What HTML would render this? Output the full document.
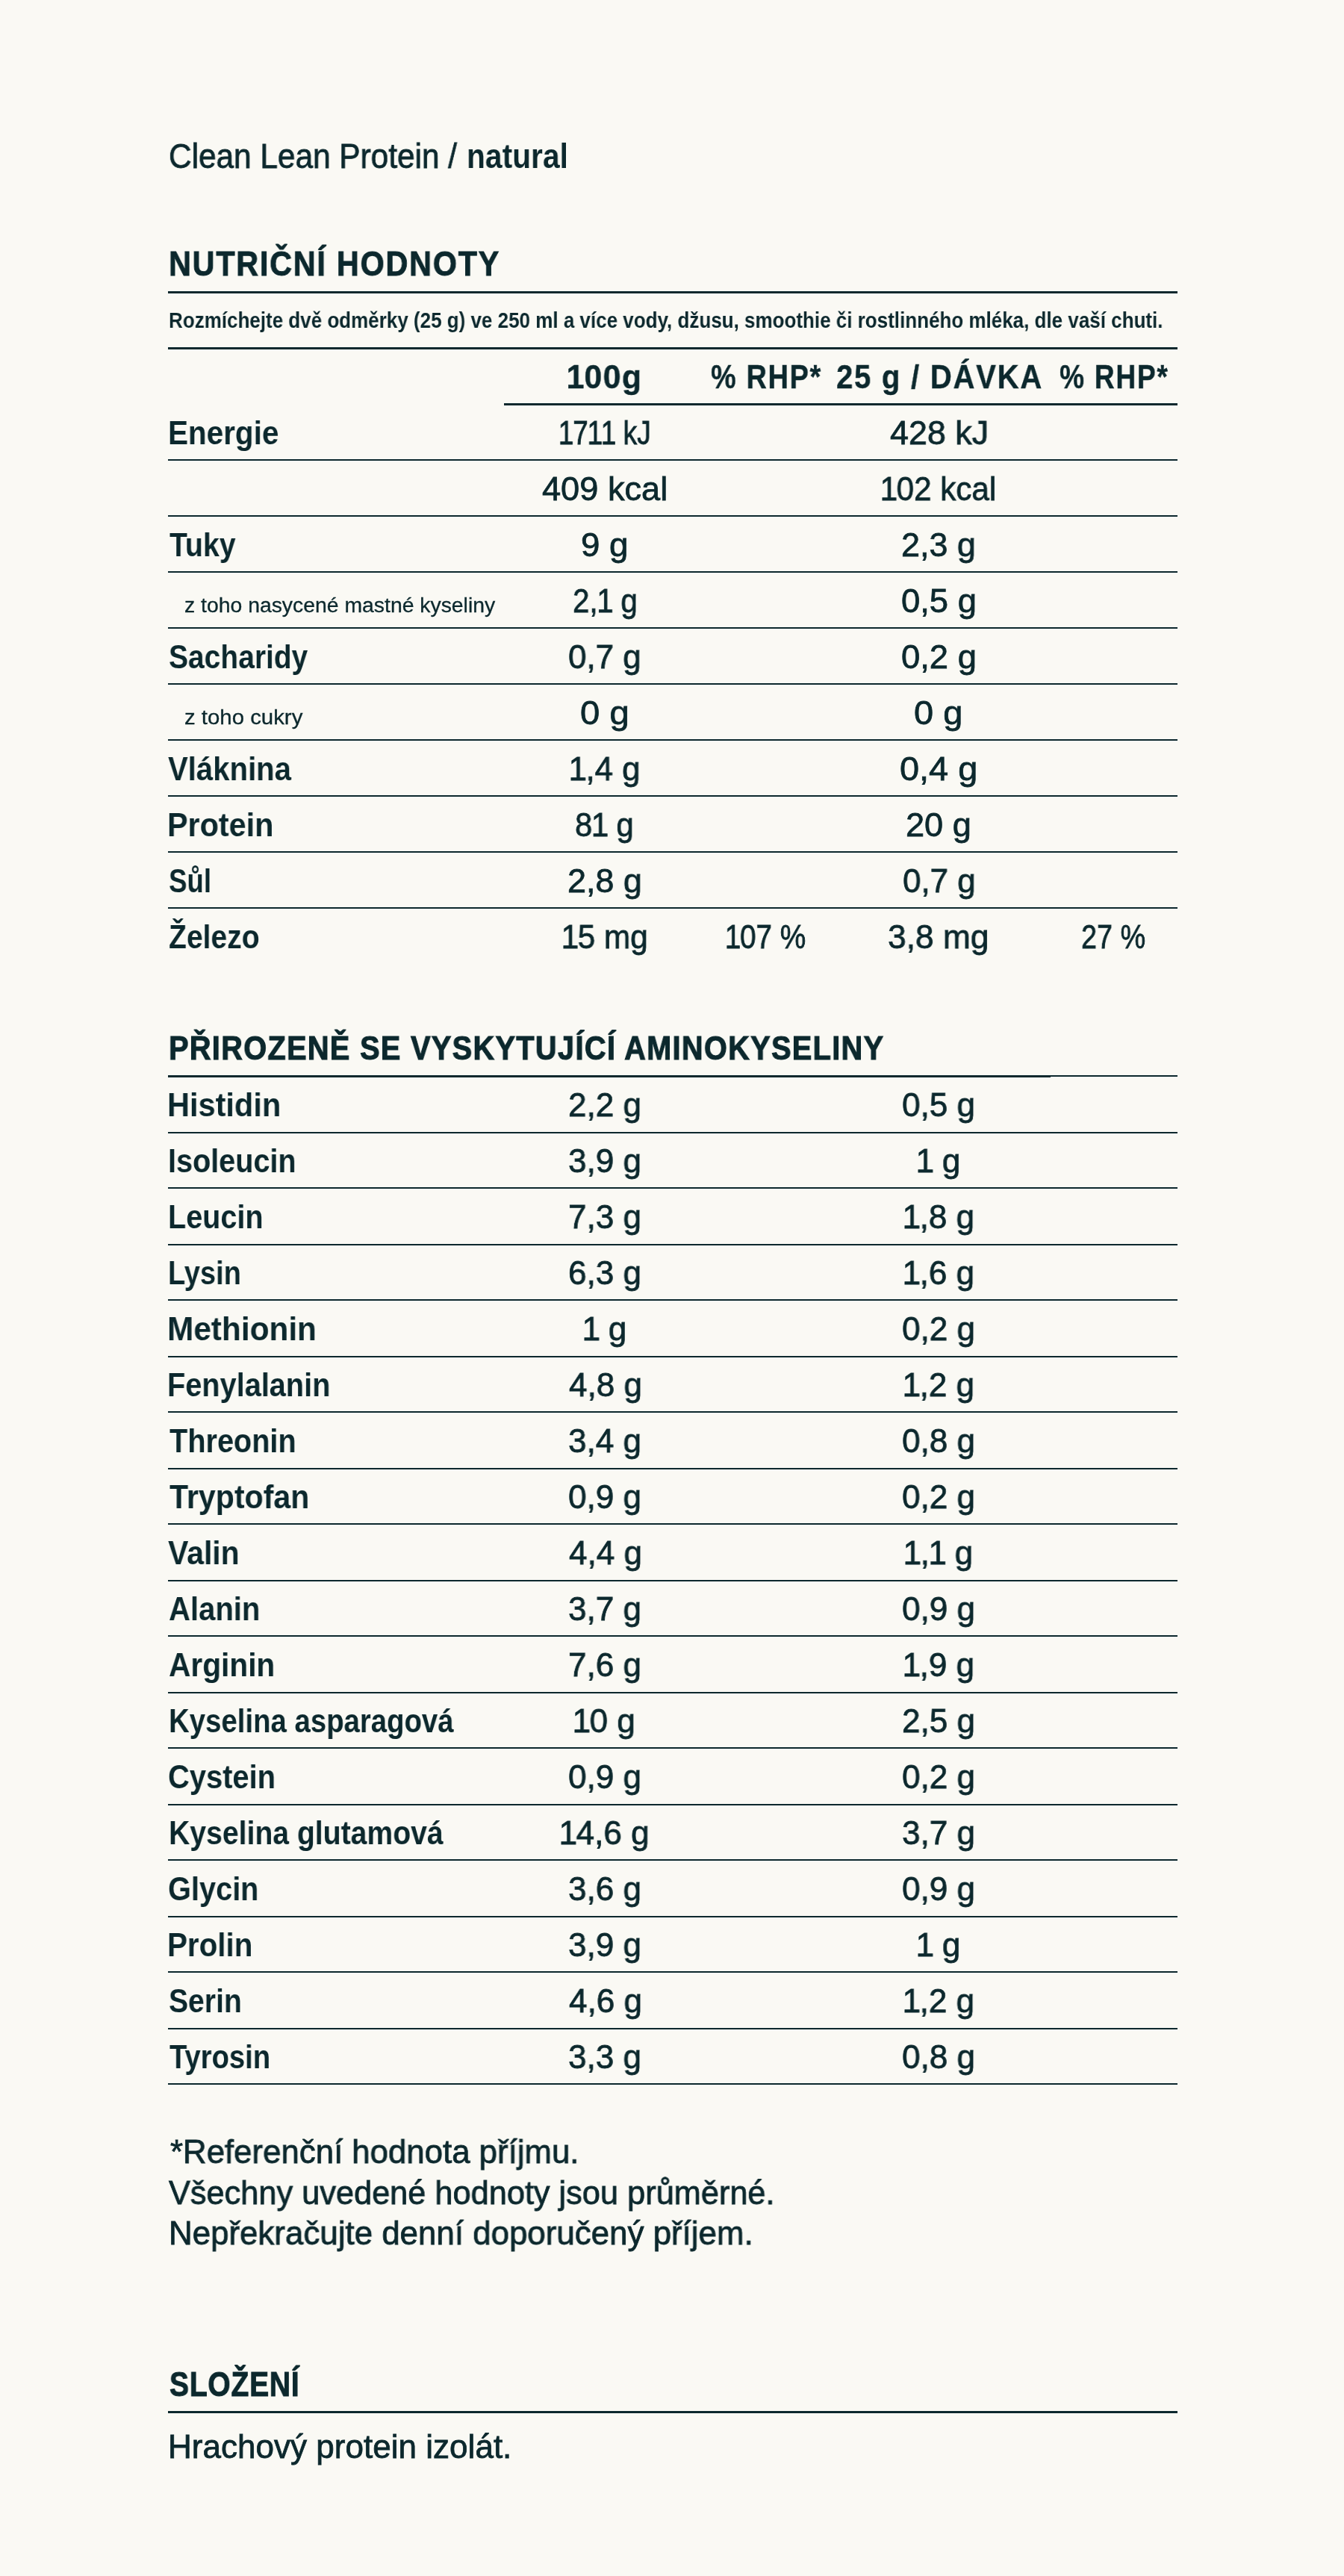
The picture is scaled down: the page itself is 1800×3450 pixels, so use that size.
<!DOCTYPE html>
<html><head><meta charset="utf-8"><title>Clean Lean Protein / natural</title>
<style>
html,body{margin:0;padding:0;background:#faf9f4;}
body{width:1800px;height:3450px;position:relative;overflow:hidden;font-family:"Liberation Sans", sans-serif;color:#0c282d;}
.t{position:absolute;white-space:nowrap;transform-origin:0 0;will-change:transform;}
.o{margin:0 -1.5px;}
.r{-webkit-text-stroke:0.8px #0c282d;}
.l{position:absolute;background:#0c282d;}
</style></head><body>
<div class='t r' style='left:225.86px;top:185.5px;font-size:46px;line-height:46px;font-weight:400;transform:scaleX(0.9204)'>Clean Lean Protein /</div><div class='t' style='left:625.04px;top:185.5px;font-size:46px;line-height:46px;font-weight:700;transform:scaleX(0.8864)'>natural</div><div class='t' style='left:226.21px;top:330.1px;font-size:46px;line-height:46px;font-weight:700;transform:scaleX(0.8980);letter-spacing:2px;-webkit-text-stroke:0.9px #0c282d'>NUTRIČNÍ HODNOTY</div><div class='t' style='left:225.71px;top:415.2px;font-size:29px;line-height:29px;font-weight:700;transform:scaleX(0.8964)'>Rozmíchejte dvě odměrky (25 g) ve 250 ml a více vody, džusu, smoothie či rostlinného mléka, dle vaší chuti.</div><div class='t' style='left:760.25px;top:481.5px;font-size:45px;line-height:45px;font-weight:700;transform:scaleX(0.9530);letter-spacing:1.5px;-webkit-text-stroke:0.4px #0c282d'><span class=o>1</span>00g</div><div class='t' style='left:951.76px;top:481.5px;font-size:45px;line-height:45px;font-weight:700;transform:scaleX(0.8414);letter-spacing:2px;-webkit-text-stroke:0.4px #0c282d'>% RHP*</div><div class='t' style='left:1120.11px;top:481.5px;font-size:45px;line-height:45px;font-weight:700;transform:scaleX(0.8893);letter-spacing:2px;-webkit-text-stroke:0.4px #0c282d'>25 g / DÁVKA</div><div class='t' style='left:1419.17px;top:481.5px;font-size:45px;line-height:45px;font-weight:700;transform:scaleX(0.8276);letter-spacing:2px;-webkit-text-stroke:0.4px #0c282d'>% RHP*</div><div class='t' style='left:225.44px;top:557.9px;font-size:44px;line-height:44px;font-weight:700;transform:scaleX(0.9191)'>Energie</div><div class='t r' style='left:748.55px;top:556.9px;font-size:45px;line-height:45px;font-weight:400;transform:scaleX(0.8250)'><span class=o>1</span>7<span class=o>1</span><span class=o>1</span> kJ</div><div class='t r' style='left:1192.00px;top:556.9px;font-size:45px;line-height:45px;font-weight:400;transform:scaleX(0.9969)'>428 kJ</div><div class='t r' style='left:726.30px;top:631.9px;font-size:45px;line-height:45px;font-weight:400;transform:scaleX(1.0037)'>409 kcal</div><div class='t r' style='left:1179.92px;top:631.9px;font-size:45px;line-height:45px;font-weight:400;transform:scaleX(0.9375)'><span class=o>1</span>02 kcal</div><div class='t' style='left:226.70px;top:707.9px;font-size:44px;line-height:44px;font-weight:700;transform:scaleX(0.8909)'>Tuky</div><div class='t r' style='left:778.12px;top:706.9px;font-size:45px;line-height:45px;font-weight:400;transform:scaleX(1.0155)'>9 g</div><div class='t r' style='left:1207.40px;top:706.9px;font-size:45px;line-height:45px;font-weight:400;transform:scaleX(0.9979)'>2,3 g</div><div class='t r' style='left:247.05px;top:797.9px;font-size:27px;line-height:27px;font-weight:400;transform:scaleX(1.0504);-webkit-text-stroke:0.3px #0c282d'>z toho nasycené mastné kyseliny</div><div class='t r' style='left:766.66px;top:781.9px;font-size:45px;line-height:45px;font-weight:400;transform:scaleX(0.8946)'>2,<span class=o>1</span> g</div><div class='t r' style='left:1206.88px;top:781.9px;font-size:45px;line-height:45px;font-weight:400;transform:scaleX(1.0084)'>0,5 g</div><div class='t' style='left:226.31px;top:857.9px;font-size:44px;line-height:44px;font-weight:700;transform:scaleX(0.8856)'>Sacharidy</div><div class='t r' style='left:761.30px;top:856.9px;font-size:45px;line-height:45px;font-weight:400;transform:scaleX(0.9758)'>0,7 g</div><div class='t r' style='left:1206.88px;top:856.9px;font-size:45px;line-height:45px;font-weight:400;transform:scaleX(1.0084)'>0,2 g</div><div class='t r' style='left:247.01px;top:947.9px;font-size:27px;line-height:27px;font-weight:400;transform:scaleX(1.0876);-webkit-text-stroke:0.3px #0c282d'>z toho cukry</div><div class='t r' style='left:777.05px;top:931.9px;font-size:45px;line-height:45px;font-weight:400;transform:scaleX(1.0500)'>0 g</div><div class='t r' style='left:1224.46px;top:931.9px;font-size:45px;line-height:45px;font-weight:400;transform:scaleX(1.0431)'>0 g</div><div class='t' style='left:225.40px;top:1007.9px;font-size:44px;line-height:44px;font-weight:700;transform:scaleX(0.9116)'>Vláknina</div><div class='t r' style='left:762.85px;top:1006.9px;font-size:45px;line-height:45px;font-weight:400;transform:scaleX(0.9739)'><span class=o>1</span>,4 g</div><div class='t r' style='left:1205.22px;top:1006.9px;font-size:45px;line-height:45px;font-weight:400;transform:scaleX(1.0421)'>0,4 g</div><div class='t' style='left:224.38px;top:1082.9px;font-size:44px;line-height:44px;font-weight:700;transform:scaleX(0.9390)'>Protein</div><div class='t r' style='left:770.49px;top:1081.9px;font-size:45px;line-height:45px;font-weight:400;transform:scaleX(0.9313)'>8<span class=o>1</span> g</div><div class='t r' style='left:1213.14px;top:1081.9px;font-size:45px;line-height:45px;font-weight:400;transform:scaleX(1.0036)'>20 g</div><div class='t' style='left:226.37px;top:1157.9px;font-size:44px;line-height:44px;font-weight:700;transform:scaleX(0.8338)'>Sůl</div><div class='t r' style='left:760.20px;top:1156.9px;font-size:45px;line-height:45px;font-weight:400;transform:scaleX(0.9979)'>2,8 g</div><div class='t r' style='left:1208.50px;top:1156.9px;font-size:45px;line-height:45px;font-weight:400;transform:scaleX(0.9758)'>0,7 g</div><div class='t' style='left:225.81px;top:1232.9px;font-size:44px;line-height:44px;font-weight:700;transform:scaleX(0.8881)'>Železo</div><div class='t r' style='left:752.72px;top:1231.9px;font-size:45px;line-height:45px;font-weight:400;transform:scaleX(0.9402)'><span class=o>1</span>5 mg</div><div class='t r' style='left:972.18px;top:1231.9px;font-size:45px;line-height:45px;font-weight:400;transform:scaleX(0.8612)'><span class=o>1</span>07 %</div><div class='t r' style='left:1189.33px;top:1231.9px;font-size:45px;line-height:45px;font-weight:400;transform:scaleX(0.9850)'>3,8 mg</div><div class='t r' style='left:1448.22px;top:1231.9px;font-size:45px;line-height:45px;font-weight:400;transform:scaleX(0.8404)'>27 %</div><div class='t' style='left:225.85px;top:1381.3px;font-size:45px;line-height:45px;font-weight:700;transform:scaleX(0.8829);letter-spacing:1.5px;-webkit-text-stroke:1.1px #0c282d'>PŘIROZENĚ SE VYSKYTUJÍCÍ AMINOKYSELINY</div><div class='t' style='left:224.37px;top:1458.0px;font-size:44px;line-height:44px;font-weight:700;transform:scaleX(0.9436)'>Histidin</div><div class='t r' style='left:761.09px;top:1457.0px;font-size:45px;line-height:45px;font-weight:400;transform:scaleX(0.9800)'>2,2 g</div><div class='t r' style='left:1208.29px;top:1457.0px;font-size:45px;line-height:45px;font-weight:400;transform:scaleX(0.9800)'>0,5 g</div><div class='t' style='left:224.50px;top:1533.0px;font-size:44px;line-height:44px;font-weight:700;transform:scaleX(0.9000)'>Isoleucin</div><div class='t r' style='left:761.09px;top:1532.0px;font-size:45px;line-height:45px;font-weight:400;transform:scaleX(0.9800)'>3,9 g</div><div class='t r' style='left:1227.89px;top:1532.0px;font-size:45px;line-height:45px;font-weight:400;transform:scaleX(0.9800)'><span class=o>1</span> g</div><div class='t' style='left:224.50px;top:1608.0px;font-size:44px;line-height:44px;font-weight:700;transform:scaleX(0.8993)'>Leucin</div><div class='t r' style='left:761.09px;top:1607.0px;font-size:45px;line-height:45px;font-weight:400;transform:scaleX(0.9800)'>7,3 g</div><div class='t r' style='left:1209.76px;top:1607.0px;font-size:45px;line-height:45px;font-weight:400;transform:scaleX(0.9800)'><span class=o>1</span>,8 g</div><div class='t' style='left:224.61px;top:1683.0px;font-size:44px;line-height:44px;font-weight:700;transform:scaleX(0.8630)'>Lysin</div><div class='t r' style='left:761.09px;top:1682.0px;font-size:45px;line-height:45px;font-weight:400;transform:scaleX(0.9800)'>6,3 g</div><div class='t r' style='left:1209.76px;top:1682.0px;font-size:45px;line-height:45px;font-weight:400;transform:scaleX(0.9800)'><span class=o>1</span>,6 g</div><div class='t' style='left:224.31px;top:1758.0px;font-size:44px;line-height:44px;font-weight:700;transform:scaleX(0.9624)'>Methionin</div><div class='t r' style='left:780.69px;top:1757.0px;font-size:45px;line-height:45px;font-weight:400;transform:scaleX(0.9800)'><span class=o>1</span> g</div><div class='t r' style='left:1208.29px;top:1757.0px;font-size:45px;line-height:45px;font-weight:400;transform:scaleX(0.9800)'>0,2 g</div><div class='t' style='left:224.49px;top:1833.0px;font-size:44px;line-height:44px;font-weight:700;transform:scaleX(0.9021)'>Fenylalanin</div><div class='t r' style='left:761.58px;top:1832.0px;font-size:45px;line-height:45px;font-weight:400;transform:scaleX(0.9800)'>4,8 g</div><div class='t r' style='left:1209.76px;top:1832.0px;font-size:45px;line-height:45px;font-weight:400;transform:scaleX(0.9800)'><span class=o>1</span>,2 g</div><div class='t' style='left:227.20px;top:1908.0px;font-size:44px;line-height:44px;font-weight:700;transform:scaleX(0.9016)'>Threonin</div><div class='t r' style='left:761.09px;top:1907.0px;font-size:45px;line-height:45px;font-weight:400;transform:scaleX(0.9800)'>3,4 g</div><div class='t r' style='left:1208.29px;top:1907.0px;font-size:45px;line-height:45px;font-weight:400;transform:scaleX(0.9800)'>0,8 g</div><div class='t' style='left:227.20px;top:1983.0px;font-size:44px;line-height:44px;font-weight:700;transform:scaleX(0.9348)'>Tryptofan</div><div class='t r' style='left:761.09px;top:1982.0px;font-size:45px;line-height:45px;font-weight:400;transform:scaleX(0.9800)'>0,9 g</div><div class='t r' style='left:1208.29px;top:1982.0px;font-size:45px;line-height:45px;font-weight:400;transform:scaleX(0.9800)'>0,2 g</div><div class='t' style='left:225.40px;top:2058.0px;font-size:44px;line-height:44px;font-weight:700;transform:scaleX(0.9320)'>Valin</div><div class='t r' style='left:761.58px;top:2057.0px;font-size:45px;line-height:45px;font-weight:400;transform:scaleX(0.9800)'>4,4 g</div><div class='t r' style='left:1211.23px;top:2057.0px;font-size:45px;line-height:45px;font-weight:400;transform:scaleX(0.9800)'><span class=o>1</span>,<span class=o>1</span> g</div><div class='t' style='left:226.29px;top:2133.0px;font-size:44px;line-height:44px;font-weight:700;transform:scaleX(0.9107)'>Alanin</div><div class='t r' style='left:761.09px;top:2132.0px;font-size:45px;line-height:45px;font-weight:400;transform:scaleX(0.9800)'>3,7 g</div><div class='t r' style='left:1208.29px;top:2132.0px;font-size:45px;line-height:45px;font-weight:400;transform:scaleX(0.9800)'>0,9 g</div><div class='t' style='left:226.28px;top:2208.0px;font-size:44px;line-height:44px;font-weight:700;transform:scaleX(0.9240)'>Arginin</div><div class='t r' style='left:761.09px;top:2207.0px;font-size:45px;line-height:45px;font-weight:400;transform:scaleX(0.9800)'>7,6 g</div><div class='t r' style='left:1209.76px;top:2207.0px;font-size:45px;line-height:45px;font-weight:400;transform:scaleX(0.9800)'><span class=o>1</span>,9 g</div><div class='t' style='left:226.18px;top:2283.0px;font-size:44px;line-height:44px;font-weight:700;transform:scaleX(0.8717)'>Kyselina asparagová</div><div class='t r' style='left:768.44px;top:2282.0px;font-size:45px;line-height:45px;font-weight:400;transform:scaleX(0.9800)'><span class=o>1</span>0 g</div><div class='t r' style='left:1208.29px;top:2282.0px;font-size:45px;line-height:45px;font-weight:400;transform:scaleX(0.9800)'>2,5 g</div><div class='t' style='left:225.39px;top:2358.0px;font-size:44px;line-height:44px;font-weight:700;transform:scaleX(0.9065)'>Cystein</div><div class='t r' style='left:761.09px;top:2357.0px;font-size:45px;line-height:45px;font-weight:400;transform:scaleX(0.9800)'>0,9 g</div><div class='t r' style='left:1208.29px;top:2357.0px;font-size:45px;line-height:45px;font-weight:400;transform:scaleX(0.9800)'>0,2 g</div><div class='t' style='left:226.13px;top:2433.0px;font-size:44px;line-height:44px;font-weight:700;transform:scaleX(0.8898)'>Kyselina glutamová</div><div class='t r' style='left:750.31px;top:2432.0px;font-size:45px;line-height:45px;font-weight:400;transform:scaleX(0.9800)'><span class=o>1</span>4,6 g</div><div class='t r' style='left:1208.29px;top:2432.0px;font-size:45px;line-height:45px;font-weight:400;transform:scaleX(0.9800)'>3,7 g</div><div class='t' style='left:225.39px;top:2508.0px;font-size:44px;line-height:44px;font-weight:700;transform:scaleX(0.9031)'>Glycin</div><div class='t r' style='left:761.09px;top:2507.0px;font-size:45px;line-height:45px;font-weight:400;transform:scaleX(0.9800)'>3,6 g</div><div class='t r' style='left:1208.29px;top:2507.0px;font-size:45px;line-height:45px;font-weight:400;transform:scaleX(0.9800)'>0,9 g</div><div class='t' style='left:224.45px;top:2583.0px;font-size:44px;line-height:44px;font-weight:700;transform:scaleX(0.9176)'>Prolin</div><div class='t r' style='left:761.09px;top:2582.0px;font-size:45px;line-height:45px;font-weight:400;transform:scaleX(0.9800)'>3,9 g</div><div class='t r' style='left:1227.89px;top:2582.0px;font-size:45px;line-height:45px;font-weight:400;transform:scaleX(0.9800)'><span class=o>1</span> g</div><div class='t' style='left:226.31px;top:2658.0px;font-size:44px;line-height:44px;font-weight:700;transform:scaleX(0.8888)'>Serin</div><div class='t r' style='left:761.58px;top:2657.0px;font-size:45px;line-height:45px;font-weight:400;transform:scaleX(0.9800)'>4,6 g</div><div class='t r' style='left:1209.76px;top:2657.0px;font-size:45px;line-height:45px;font-weight:400;transform:scaleX(0.9800)'><span class=o>1</span>,2 g</div><div class='t' style='left:226.50px;top:2733.0px;font-size:44px;line-height:44px;font-weight:700;transform:scaleX(0.8680)'>Tyrosin</div><div class='t r' style='left:761.09px;top:2732.0px;font-size:45px;line-height:45px;font-weight:400;transform:scaleX(0.9800)'>3,3 g</div><div class='t r' style='left:1208.29px;top:2732.0px;font-size:45px;line-height:45px;font-weight:400;transform:scaleX(0.9800)'>0,8 g</div><div class='t r' style='left:227.91px;top:2860.3px;font-size:44px;line-height:44px;font-weight:400;transform:scaleX(0.9947)'>*Referenční hodnota příjmu.</div><div class='t r' style='left:225.70px;top:2914.6px;font-size:44px;line-height:44px;font-weight:400;transform:scaleX(0.9845)'>Všechny uvedené hodnoty jsou průměrné.</div><div class='t r' style='left:225.51px;top:2968.6px;font-size:44px;line-height:44px;font-weight:400;transform:scaleX(0.9968)'>Nepřekračujte denní doporučený příjem.</div><div class='t' style='left:226.95px;top:3169.6px;font-size:46px;line-height:46px;font-weight:700;transform:scaleX(0.8456);letter-spacing:1px;-webkit-text-stroke:1.0px #0c282d'>SLOŽENÍ</div><div class='t r' style='left:225.39px;top:3255.0px;font-size:44px;line-height:44px;font-weight:400;transform:scaleX(1.0013)'>Hrachový protein izolát.</div>
<div class=l style='left:225px;width:1352px;top:390px;height:3px'></div><div class=l style='left:225px;width:1352px;top:465px;height:3px'></div><div class=l style='left:675px;width:902px;top:540px;height:3px'></div><div class=l style='left:225px;width:1352px;top:615px;height:2px'></div><div class=l style='left:225px;width:1352px;top:690px;height:2px'></div><div class=l style='left:225px;width:1352px;top:765px;height:2px'></div><div class=l style='left:225px;width:1352px;top:840px;height:2px'></div><div class=l style='left:225px;width:1352px;top:915px;height:2px'></div><div class=l style='left:225px;width:1352px;top:990px;height:2px'></div><div class=l style='left:225px;width:1352px;top:1065px;height:2px'></div><div class=l style='left:225px;width:1352px;top:1140px;height:2px'></div><div class=l style='left:225px;width:1352px;top:1215px;height:2px'></div><div class=l style='left:225px;width:1182px;top:1440px;height:3px'></div><div class=l style='left:1407px;width:170px;top:1440px;height:2px'></div><div class=l style='left:225px;width:1352px;top:1516px;height:2px'></div><div class=l style='left:225px;width:1352px;top:1590px;height:2px'></div><div class=l style='left:225px;width:1352px;top:1666px;height:2px'></div><div class=l style='left:225px;width:1352px;top:1740px;height:2px'></div><div class=l style='left:225px;width:1352px;top:1816px;height:2px'></div><div class=l style='left:225px;width:1352px;top:1890px;height:2px'></div><div class=l style='left:225px;width:1352px;top:1966px;height:2px'></div><div class=l style='left:225px;width:1352px;top:2040px;height:2px'></div><div class=l style='left:225px;width:1352px;top:2116px;height:2px'></div><div class=l style='left:225px;width:1352px;top:2190px;height:2px'></div><div class=l style='left:225px;width:1352px;top:2266px;height:2px'></div><div class=l style='left:225px;width:1352px;top:2340px;height:2px'></div><div class=l style='left:225px;width:1352px;top:2416px;height:2px'></div><div class=l style='left:225px;width:1352px;top:2490px;height:2px'></div><div class=l style='left:225px;width:1352px;top:2566px;height:2px'></div><div class=l style='left:225px;width:1352px;top:2640px;height:2px'></div><div class=l style='left:225px;width:1352px;top:2716px;height:2px'></div><div class=l style='left:225px;width:1352px;top:2790px;height:2px'></div><div class=l style='left:225px;width:1352px;top:3229px;height:3px'></div>
</body></html>
